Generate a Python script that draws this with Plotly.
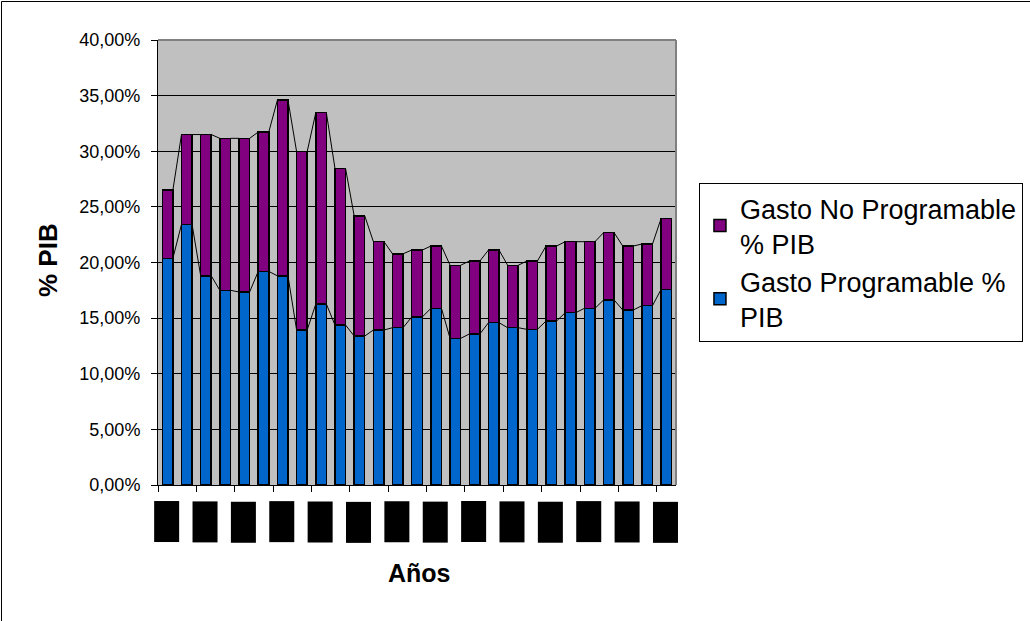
import plotly.graph_objects as go

# ---- data ----
years = list(range(1980, 2007))
total_pct = [26.5, 31.5, 31.5, 31.16, 31.16, 31.73, 34.6, 29.96, 33.47, 28.46, 24.2,
             21.88, 20.78, 21.12, 21.48, 19.75, 20.13, 21.12, 19.75, 20.13, 21.48,
             21.87, 21.87, 22.68, 21.48, 21.66, 23.97]
programable = [20.37, 23.43, 18.8, 17.5, 17.35, 19.2, 18.8, 13.93, 16.27, 14.38, 13.39,
               13.93, 14.14, 15.1, 15.88, 13.18, 13.57, 14.59, 14.14, 13.99, 14.74,
               15.49, 15.88, 16.63, 15.73, 16.12, 17.59]
no_programable = [round(t - p, 2) for t, p in zip(total_pct, programable)]
y_tickvals = [0, 5, 10, 15, 20, 25, 30, 35, 40]
y_ticktext = ["0,00%", "5,00%", "10,00%", "15,00%", "20,00%", "25,00%", "30,00%", "35,00%", "40,00%"]
label_years = years[::2]

FONT = "Liberation Sans, Arial, sans-serif"
BW = 0.55
BLUE = "#0066CC"
PURPLE = "#800080"

fig = go.Figure()
fig.add_trace(go.Bar(x=years, y=programable, name="Gasto Programable %<br>PIB",
                     marker=dict(color=BLUE, line=dict(color="black", width=1.5)), width=BW))
fig.add_trace(go.Bar(x=years, y=no_programable, name="Gasto No Programable<br>% PIB",
                     marker=dict(color=PURPLE, line=dict(color="black", width=1.5)), width=BW))

# series lines (connect segment tops between adjacent bars)
def series_line(vals):
    xs, ys = [], []
    for i in range(len(years) - 1):
        xs += [years[i] + BW / 2, years[i + 1] - BW / 2, None]
        ys += [vals[i], vals[i + 1], None]
    return xs, ys

for vals in (programable, total_pct):
    sx, sy = series_line(vals)
    fig.add_trace(go.Scatter(x=sx, y=sy, mode="lines", line=dict(color="black", width=1),
                             showlegend=False, hoverinfo="skip"))

annotations = []
for yr in label_years:
    annotations.append(dict(x=yr, y=-0.083, xref="x", yref="paper", text=str(yr),
                            showarrow=False, textangle=-90, width=40, height=24,
                            xanchor="center", yanchor="middle",
                            bgcolor="black", borderpad=0, xshift=-1,
                            font=dict(family=FONT, size=14, color="black")))
annotations.append(dict(x=0.504, y=-0.197, xref="paper", yref="paper", text="<b>Años</b>",
                        showarrow=False, font=dict(family=FONT, size=25, color="black"),
                        xanchor="center", yanchor="middle"))
annotations.append(dict(x=-0.212, y=0.506, xref="paper", yref="paper", text="<b>% PIB</b>",
                        showarrow=False, textangle=-90,
                        font=dict(family=FONT, size=26, color="black"),
                        xanchor="center", yanchor="middle"))

shapes = [
    # plot area top/right border (gray)
    dict(type="line", xref="paper", yref="paper", x0=0, x1=1, y0=1, y1=1,
         line=dict(color="#808080", width=2)),
    dict(type="line", xref="paper", yref="paper", x0=1, x1=1, y0=0, y1=1,
         line=dict(color="#808080", width=2)),
    # outer chart frame
    dict(type="rect", xref="paper", yref="paper", x0=-0.3021, x1=1.9, y0=-0.6, y1=1.0865,
         line=dict(color="black", width=1), fillcolor="rgba(0,0,0,0)"),
]

fig.update_layout(
    width=1030, height=621,
    margin=dict(l=158, r=354, t=40, b=136, autoexpand=False),
    paper_bgcolor="white", plot_bgcolor="#C0C0C0",
    barmode="stack",
    font=dict(family=FONT, color="black"),
    showlegend=True,
    legend=dict(x=0.6786, y=0.7053, xref="container", yref="container",
                xanchor="left", yanchor="top",
                bordercolor="black", borderwidth=1, bgcolor="white",
                font=dict(family=FONT, size=27, color="black"), traceorder="reversed"),
    xaxis=dict(range=[1979.5, 2006.5], showgrid=False, zeroline=False,
               tickvals=[1979.5 + 2 * k for k in range(14)], showticklabels=False,
               ticks="outside", ticklen=6, tickcolor="black", tickwidth=1,
               showline=True, linecolor="black", linewidth=1),
    yaxis=dict(range=[0, 40], tickvals=y_tickvals, ticktext=y_ticktext,
               showgrid=True, gridcolor="black", gridwidth=1, zeroline=False,
               ticks="outside", ticklen=6, tickcolor="black", ticklabelstandoff=7,
               showline=True, linecolor="black", linewidth=1,
               tickfont=dict(family=FONT, size=18, color="black")),
    annotations=annotations,
    shapes=shapes,
)

fig.write_html("out.html")
